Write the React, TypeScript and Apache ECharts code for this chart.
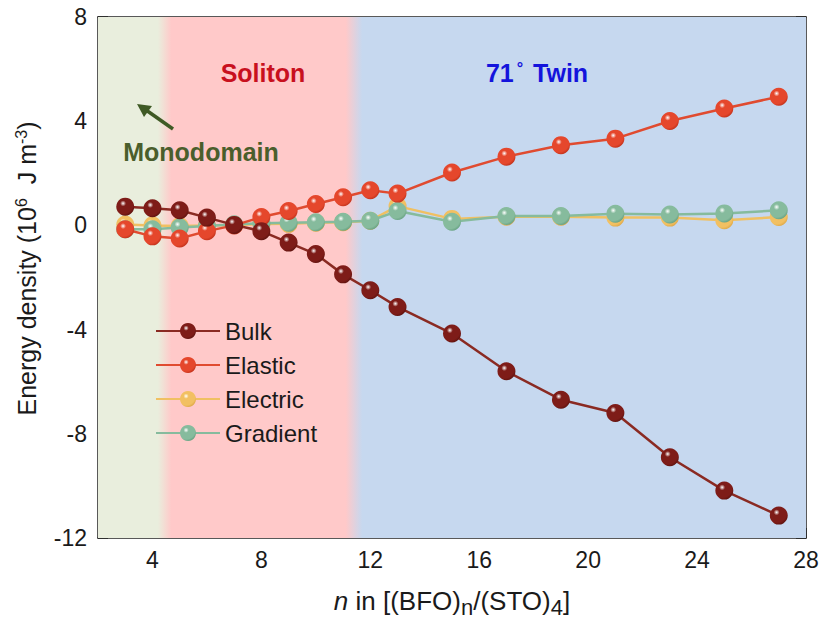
import React, { useEffect, useRef } from "react";
import * as echarts from "echarts";

const nValues = [3, 4, 5, 6, 7, 8, 9, 10, 11, 12, 13, 15, 17, 19, 21, 23, 25, 27];
const bulk = [0.72, 0.66, 0.58, 0.3, 0.02, -0.22, -0.66, -1.1, -1.88, -2.49, -3.13, -4.15, -5.6, -6.69, -7.2, -8.9, -10.18, -11.14];
const elastic = [-0.15, -0.42, -0.5, -0.22, 0.0, 0.32, 0.55, 0.82, 1.08, 1.35, 1.22, 2.03, 2.64, 3.08, 3.33, 4.01, 4.49, 4.94];
const electric = [0.03, 0.0, -0.02, 0.0, 0.02, 0.05, 0.06, 0.1, 0.12, 0.18, 0.74, 0.25, 0.33, 0.33, 0.3, 0.3, 0.2, 0.32];
const gradient = [-0.15, -0.15, -0.08, -0.02, 0.04, 0.08, 0.1, 0.12, 0.14, 0.18, 0.55, 0.14, 0.36, 0.36, 0.45, 0.42, 0.46, 0.58];

const xMajorTicks = [4, 8, 12, 16, 20, 24, 28];
const xMinorTicks = [6, 10, 14, 18, 22, 26];
const regionBounds = [2, 4.2, 4.7, 11.1, 11.7, 28];

const FONT = "Liberation Sans, Arial, sans-serif";

function sphere(color: string, dark: string) {
  return new echarts.graphic.RadialGradient(0.38, 0.32, 0.75, [
    { offset: 0, color: "#ffffff" },
    { offset: 0.22, color: color },
    { offset: 0.75, color: color },
    { offset: 1, color: dark },
  ]);
}

export default function App() {
  const ref = useRef<HTMLDivElement>(null);
  useEffect(() => {
    if (!ref.current) return;
    const chart = echarts.init(ref.current, null, { renderer: "svg" });
    const span = regionBounds[5] - regionBounds[0];
    const f = (v: number) => (v - regionBounds[0]) / span;
    const bg = new echarts.graphic.LinearGradient(0, 0, 1, 0, [
      { offset: 0, color: "#e9eedd" },
      { offset: f(regionBounds[1]), color: "#e9eedd" },
      { offset: f(regionBounds[2]), color: "#ffc9c9" },
      { offset: f(regionBounds[3]), color: "#ffc9c9" },
      { offset: f(regionBounds[4]), color: "#c6d8ef" },
      { offset: 1, color: "#c6d8ef" },
    ]);
    const mkSeries = (name: string, data: number[], line: string, col: string, dark: string, z: number) => ({
      name,
      type: "line",
      data: nValues.map((n, i) => [n, data[i]]),
      symbol: "circle",
      symbolSize: 18,
      z,
      lineStyle: { color: line, width: 2.5 },
      itemStyle: { color: sphere(col, dark), borderWidth: 0 },
      emphasis: { disabled: true },
    });
    const tickColor = "#222";
    const option: any = {
      animation: false,
      textStyle: { fontFamily: FONT },
      grid: { left: 98, right: 17, top: 17, bottom: 84 },
      legend: {
        left: 150,
        top: 314,
        orient: "vertical",
        itemWidth: 64,
        itemHeight: 20,
        itemGap: 10,
        textStyle: { fontSize: 24, color: "#1a1a1a", fontFamily: FONT, lineHeight: 24 },
        data: ["Bulk", "Elastic", "Electric", "Gradient"],
      },
      xAxis: [
        {
          type: "value",
          min: 2,
          max: 28,
          position: "bottom",
          name: "{i|n} in [(BFO){sub|n}/(STO){sub|4}]",
          nameLocation: "middle",
          nameGap: 46,
          nameTextStyle: {
            fontSize: 26,
            color: "#1a1a1a",
            rich: {
              i: { fontSize: 26, fontStyle: "italic", color: "#1a1a1a" },
              sub: { fontSize: 22, verticalAlign: "bottom", padding: [12, 0, 0, 0], color: "#1a1a1a" },
            },
          },
          axisLine: { show: true, onZero: false, lineStyle: { color: tickColor, width: 1.5 } },
          axisTick: { show: true, inside: true, length: 10, customValues: xMajorTicks, lineStyle: { color: tickColor, width: 1.5 } },
          axisLabel: { customValues: xMajorTicks, fontSize: 23, color: "#1a1a1a", margin: 10 },
          splitLine: { show: false },
        },
        {
          type: "value",
          min: 2,
          max: 28,
          position: "bottom",
          axisLine: { show: false },
          axisTick: { show: true, inside: true, length: 5, customValues: xMinorTicks, lineStyle: { color: tickColor, width: 1.5 } },
          axisLabel: { show: false },
          splitLine: { show: false },
        },
        {
          type: "value",
          min: 2,
          max: 28,
          position: "top",
          axisLine: { show: true, onZero: false, lineStyle: { color: tickColor, width: 1.5 } },
          axisTick: { show: false },
          axisLabel: { show: false },
          splitLine: { show: false },
        },
      ],
      yAxis: [
        {
          type: "value",
          min: -12,
          max: 8,
          interval: 4,
          position: "left",
          name: "{a|Energy density (10}{sup|6}{a|  J m}{sup|-3}{a|)}",
          nameLocation: "middle",
          nameRotate: 90,
          nameGap: 57,
          nameTextStyle: {
            color: "#1a1a1a",
            padding: [0, 0, 0, 18],
            rich: {
              a: { fontSize: 25, color: "#1a1a1a", lineHeight: 28 },
              sup: { fontSize: 16, verticalAlign: "top", color: "#1a1a1a", lineHeight: 28, padding: [0, 0, 12, 0] },
            },
          },
          axisLine: { show: true, onZero: false, lineStyle: { color: tickColor, width: 1.5 } },
          axisTick: { show: true, inside: true, length: 10, lineStyle: { color: tickColor, width: 1.5 } },
          minorTick: { show: true, splitNumber: 2, length: 5, lineStyle: { color: tickColor, width: 1.5 } },
          axisLabel: { fontSize: 23, color: "#1a1a1a", margin: 11 },
          splitLine: { show: false },
        },
        {
          type: "value",
          min: -12,
          max: 8,
          interval: 4,
          position: "right",
          axisLine: { show: true, onZero: false, lineStyle: { color: tickColor, width: 1.5 } },
          axisTick: { show: true, inside: true, length: 10, lineStyle: { color: tickColor, width: 1.5 } },
          minorTick: { show: true, splitNumber: 2, length: 5, lineStyle: { color: tickColor, width: 1.5 } },
          axisLabel: { show: false },
          splitLine: { show: false },
        },
      ],
      series: [
        {
          name: "bg",
          type: "line",
          data: [],
          silent: true,
          markArea: {
            silent: true,
            itemStyle: { color: bg },
            data: [[{ xAxis: regionBounds[0], yAxis: -12 }, { xAxis: regionBounds[5], yAxis: 8 }]],
          },
          z: 0,
        },
        mkSeries("Gradient", gradient, "#86bb9d", "#86bb9d", "#5e9a7a", 5),
        mkSeries("Electric", electric, "#f0c062", "#f2c062", "#d9a240", 4),
        mkSeries("Elastic", elastic, "#e04b30", "#e5472c", "#b82c16", 6),
        mkSeries("Bulk", bulk, "#8a2a22", "#7e1c18", "#55100c", 7),
      ],
      graphic: [
        {
          type: "text",
          x: 263,
          y: 73,
          style: { text: "Soliton", fontSize: 25, fontWeight: "bold", fill: "#c8101e", fontFamily: FONT, align: "center", verticalAlign: "middle" },
          z: 50,
        },
        {
          type: "text",
          x: 537,
          y: 73,
          style: {
            text: "{a|71}{d|°}{a| Twin}",
            align: "center",
            verticalAlign: "middle",
            rich: {
              a: { fontSize: 25, fontWeight: "bold", fill: "#1414dc", fontFamily: FONT },
              d: { fontSize: 16, fontWeight: "bold", fill: "#1414dc", fontFamily: FONT, verticalAlign: "top", padding: [0, 3, 8, 3] },
            },
          },
          z: 50,
        },
        {
          type: "text",
          x: 201,
          y: 152,
          style: { text: "Monodomain", fontSize: 25, fontWeight: "bold", fill: "#4a5e2c", fontFamily: FONT, align: "center", verticalAlign: "middle" },
          z: 50,
        },
        {
          type: "line",
          shape: { x1: 173, y1: 129, x2: 146, y2: 110 },
          style: { stroke: "#3f5a25", lineWidth: 3.5 },
          z: 50,
        },
        {
          type: "polygon",
          shape: { points: [[137, 104], [152, 106], [144, 117]] },
          style: { fill: "#3f5a25" },
          z: 50,
        },
      ],
    };
    chart.setOption(option);
    return () => chart.dispose();
  }, []);
  return <div ref={ref} style={{ position: "fixed", left: 0, top: 0, width: 823, height: 623, background: "#fff" }} />;
}
